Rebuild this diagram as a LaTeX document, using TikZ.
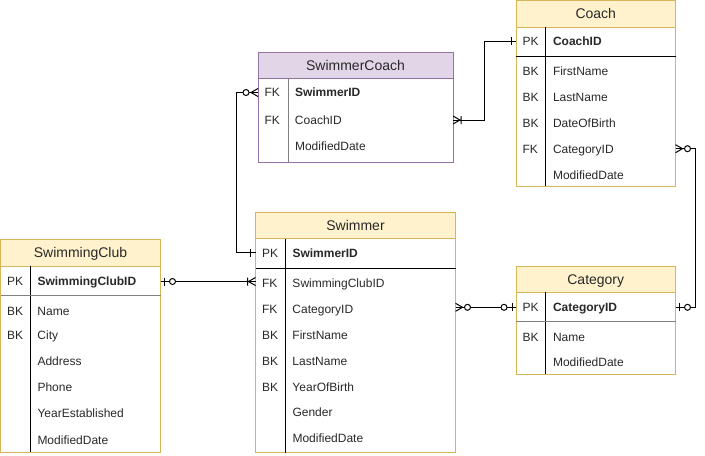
\documentclass[tikz,border=0pt]{standalone}
\usepackage{fontspec}
\setmainfont{Liberation Sans}
\usepackage{xcolor}
\usetikzlibrary{positioning,decorations.markings}
\definecolor{eryellow}{RGB}{255,242,204}
\definecolor{eryellowline}{RGB}{214,182,86}
\definecolor{erpurple}{RGB}{225,213,231}
\definecolor{erpurpleline}{RGB}{150,115,166}
\definecolor{ertext}{RGB}{40,40,40}
\definecolor{ergray}{RGB}{128,128,128}
% crow's foot markers, entity edge at the origin, line along +x
\newcommand{\mkzeromany}{\draw[mk] (0,-4) -- (7,0) -- (0,4); \draw[mk,fill=white] (12,0) circle (3);}
\newcommand{\mkonemany}{\draw[mk] (0,-4) -- (7,0) -- (0,4) (8,-4) -- (8,4);}
\newcommand{\mkzeroone}{\draw[mk] (4,-4) -- (4,4); \draw[mk,fill=white] (12,0) circle (3);}
\newcommand{\mkone}{\draw[mk] (5,-4) -- (5,4);}
\tikzset{
  mk/.style={line width=0.75pt, black},
  link/.style={line width=0.75pt, black},
  start zmany/.style={postaction={decorate,decoration={markings,mark=at position 0 with {\mkzeromany}}}},
  start omany/.style={postaction={decorate,decoration={markings,mark=at position 0 with {\mkonemany}}}},
  start zone/.style={postaction={decorate,decoration={markings,mark=at position 0 with {\mkzeroone}}}},
  end one/.style={postaction={decorate,decoration={markings,mark=at position 1 with {\begin{scope}[xscale=-1]\mkone\end{scope}}}}},
  end zone/.style={postaction={decorate,decoration={markings,mark=at position 1 with {\begin{scope}[xscale=-1]\mkzeroone\end{scope}}}}},
  end omany/.style={postaction={decorate,decoration={markings,mark=at position 1 with {\begin{scope}[xscale=-1]\mkonemany\end{scope}}}}},
  yframe/.style={draw=eryellowline, line width=0.75pt},
  yhead/.style={draw=eryellowline, fill=eryellow, line width=0.75pt},
  pframe/.style={draw=erpurpleline, line width=0.75pt},
  phead/.style={draw=erpurpleline, fill=erpurple, line width=0.75pt},
  rule/.style={line width=0.75pt, black},
  grayrule/.style={line width=1.1pt, ergray},
  title/.style={inner sep=0pt, text height=7.5pt, text depth=0pt, text=ertext, font=\fontsize{10.5pt}{12pt}\selectfont},
  row/.style={anchor=west, inner sep=0pt, outer sep=0pt, align=left, text height=6.5pt, text depth=0pt, text=ertext, font=\fontsize{9pt}{11pt}\selectfont}
}
\newcommand{\rowtext}[2]{\hspace*{4.875pt}\makebox[22.875pt][l]{#1}#2}

\begin{document}
\begin{tikzpicture}[x=0.75pt, y=-0.75pt]
\useasboundingbox (0,0) rectangle (705,455);

% Coach
\draw[yhead] (516,0.5) rectangle (675.5,27);
\draw[yframe] (516,0.5) rectangle (675.5,186);
\node[title] (coach) at (595.75,13.75) {Coach};
\draw[rule] (545.7,27) -- (545.7,186);
\draw[rule] (516,56.7) -- (675.5,56.7);
\foreach \k/\f/\y [count=\i] in {PK/\textbf{CoachID}/41, BK/FirstName/70.7, BK/LastName/97, BK/DateOfBirth/123, FK/CategoryID/148.7, {}/ModifiedDate/174.7}
  \node[row, text width=119.625pt] (coach-r\i) at (516,\y) {\rowtext{\k}{\f}};

% SwimmerCoach
\draw[phead] (258,52.5) rectangle (453,78);
\draw[pframe] (258,52.5) rectangle (453,162.3);
\node[title] (swcoach) at (355.5,65.25) {SwimmerCoach};
\draw[line width=1.1pt, ergray] (288.3,78) -- (288.3,162.3);
\foreach \k/\f/\y [count=\i] in {FK/\textbf{SwimmerID}/92.5, FK/CoachID/120, {}/ModifiedDate/146.5}
  \node[row, text width=146.25pt] (sc-r\i) at (258,\y) {\rowtext{\k}{\f}};

% Swimmer
\draw[yhead] (255.5,212.5) rectangle (455.5,238.5);
\draw[yframe] (255.5,212.5) rectangle (455.5,452.5);
\node[title] (swimmer) at (355.5,225.5) {Swimmer};
\draw[rule] (285.7,238.5) -- (285.7,452.5);
\draw[rule] (255.5,268.3) -- (455.5,268.3);
\foreach \k/\f/\y [count=\i] in {PK/\textbf{SwimmerID}/252.7, FK/SwimmingClubID/282.7, FK/CategoryID/308.7, BK/FirstName/334.7, BK/LastName/360.7, BK/YearOfBirth/386.7, {}/Gender/412.3, {}/ModifiedDate/438.3}
  \node[row, text width=150pt] (sw-r\i) at (255.5,\y) {\rowtext{\k}{\f}};

% SwimmingClub
\draw[yhead] (0.5,239.5) rectangle (160.5,266);
\draw[yframe] (0.5,239.5) rectangle (160.5,452);
\node[title] (club) at (80.5,252.75) {SwimmingClub};
\draw[rule] (30.7,266) -- (30.7,452);
\draw[grayrule] (0.5,295.7) -- (160.5,295.7);
\foreach \k/\f/\y [count=\i] in {PK/\textbf{SwimmingClubID}/281.5, BK/Name/310.7, BK/City/335, {}/Address/360.7, {}/Phone/386.7, {}/YearEstablished/412.7, {}/ModifiedDate/440}
  \node[row, text width=120pt] (club-r\i) at (0.5,\y) {\rowtext{\k}{\f}};

% Category
\draw[yhead] (516,266) rectangle (675.5,292);
\draw[yframe] (516,266) rectangle (675.5,374.3);
\node[title] (cat) at (595.75,279) {Category};
\draw[rule] (545.7,292) -- (545.7,374.3);
\draw[grayrule] (516,321.7) -- (675.5,321.7);
\foreach \k/\f/\y [count=\i] in {PK/\textbf{CategoryID}/307.3, BK/Name/337.3, {}/ModifiedDate/362.3}
  \node[row, text width=119.625pt] (cat-r\i) at (516,\y) {\rowtext{\k}{\f}};

% relations
\draw[link, start zmany, end one] (sc-r1.west) -- ++(-22,0) |- (sw-r1.west);
\draw[link, start omany, end one] (sc-r2.east) -- ++(31,0) |- (coach-r1.west);
\draw[link, start zmany, end zone] (coach-r5.east) -- ++(19.5,0) |- (cat-r1.east);
\draw[link, start zone, end omany] (club-r1.east) -- (club-r1.east -| sw-r2.west);
\draw[link, start zmany, end zone] (sw-r3.east |- cat-r1.west) -- (cat-r1.west);
\end{tikzpicture}
\end{document}
